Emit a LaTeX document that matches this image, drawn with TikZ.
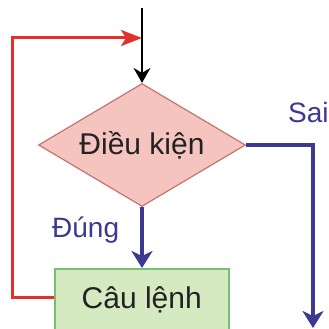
\documentclass[tikz,border=0pt]{standalone}
\usepackage{fontspec}
\setmainfont{Liberation Sans}
\usetikzlibrary{shapes.geometric,arrows.meta}
\definecolor{dfill}{HTML}{F6C4BF}
\definecolor{dborder}{HTML}{C47470}
\definecolor{bfill}{HTML}{D6EAC2}
\definecolor{bborder}{HTML}{7CBD76}
\definecolor{flowblue}{HTML}{3E3990}
\definecolor{flowred}{HTML}{E2302A}
\definecolor{textdark}{HTML}{222222}
\begin{document}
\begin{tikzpicture}[x=1pt,y=-1pt,
  maintext/.style={font=\fontsize{30}{36}\selectfont, text=textdark},
  labeltext/.style={font=\fontsize{28}{34}\selectfont, text=flowblue, inner sep=0pt},
  condbox/.style={diamond, aspect=1.68, draw=dborder, fill=dfill, line width=1.2pt, minimum width=207pt, minimum height=123pt, inner sep=0pt, maintext},
  stmtbox/.style={rectangle, draw=bborder, fill=bfill, line width=1.5pt, minimum width=174pt, minimum height=63pt, maintext},
  blueflow/.style={draw=flowblue, line width=3.2pt, -{Stealth[length=17pt,width=21pt,inset=5pt]}},
  redflow/.style={draw=flowred, line width=3pt, -{Stealth[length=21pt,width=16pt,inset=5pt]}},
  blackflow/.style={draw=black, line width=1.5pt, -{Stealth[length=15pt,width=17pt,inset=5pt]}}]
\useasboundingbox (0,0) rectangle (329,329);
\fill[white] (0,0) rectangle (329,329);
\coordinate (start) at (142,8);
\coordinate (saicorner) at (313,145);
\coordinate (saiend) at (313,328);
\coordinate (redleftbot) at (12,297);
\coordinate (redlefttop) at (12,38);
\coordinate (redend) at (142,38);
\node[condbox] (cond) at (142,145) {Điều kiện};
\node[stmtbox, anchor=north west] (stmt) at (54,268) {Câu lệnh};
\draw[blackflow] (start) -- (cond.north);
\draw[blueflow] (cond.south) -- (cond.south |- stmt.north);
\draw[blueflow] (cond.east) -- (saicorner) -- (saiend);
\draw[redflow] (stmt.west |- redleftbot) -- (redleftbot) -- (redlefttop) -- (redend);
\node[labeltext, anchor=base west] (dung) at (52,237) {Đúng};
\node[labeltext, anchor=base west] (sai) at (288,122) {Sai};
\end{tikzpicture}
\end{document}
